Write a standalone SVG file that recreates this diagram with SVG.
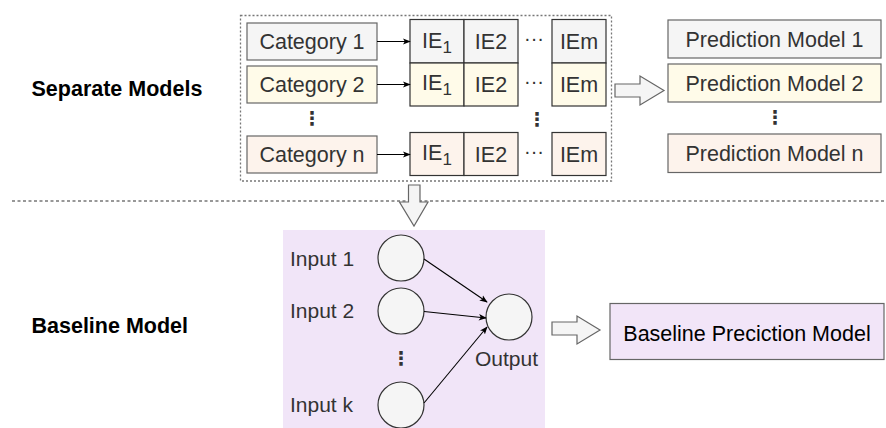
<svg xmlns="http://www.w3.org/2000/svg" width="886" height="428" viewBox="0 0 886 428">
  <style>
    text { font-family: "Liberation Sans", Arial, sans-serif; fill: #333333; }
    .lbl { font-size: 21.5px; text-anchor: middle; }
    .in { font-size: 21px; }
    .head { font-size: 21.5px; font-weight: bold; fill: #000000; }
    .vd { font-family: "DejaVu Sans", sans-serif; font-size: 19px; font-weight: bold; text-anchor: middle; fill: #333333; }
    .hd { font-size: 20px; text-anchor: middle; }
    .box { stroke: #666666; stroke-width: 1.2; }
    .cell { stroke: #333333; stroke-width: 1.2; }
    .g1 { fill: #f5f5f5; }
    .g2 { fill: #fffbe9; }
    .g3 { fill: #fdf3ec; }
    .circ { fill: #f5f5f5; stroke: #333333; stroke-width: 1.2; }
    .conn { stroke: #000000; stroke-width: 1.1; fill: none; marker-end: url(#tri); }
    .block { fill: #f5f5f5; stroke: #666666; stroke-width: 1.2; }
  </style>
  <defs>
    <marker id="tri" viewBox="0 0 10 10" refX="9" refY="5" markerWidth="8" markerHeight="8" markerUnits="userSpaceOnUse" orient="auto">
      <path d="M0,1 L10,5 L0,9 L2.5,5 Z" fill="#000000"/>
    </marker>
  </defs>

  <rect width="886" height="428" fill="#ffffff"/>

  <!-- section titles -->
  <text class="head" x="31.5" y="96">Separate Models</text>
  <text class="head" x="31.5" y="333">Baseline Model</text>

  <!-- divider between the two sections -->
  <line x1="12" y1="201" x2="885" y2="201" stroke="#777777" stroke-width="1.5" stroke-dasharray="3,2.5"/>

  <!-- grouping frame around the category table -->
  <rect id="category-frame" x="240.5" y="15.5" width="371" height="165.5" fill="none" stroke="#777777" stroke-width="1.3" stroke-dasharray="2,2"/>

  <!-- category boxes -->
  <g id="category-1">
    <rect class="box g1" x="247" y="23" width="130" height="37"/>
    <text class="lbl" x="312" y="49">Category 1</text>
  </g>
  <g id="category-2">
    <rect class="box g2" x="247" y="66" width="130" height="37"/>
    <text class="lbl" x="312" y="92">Category 2</text>
  </g>
  <text class="vd" x="312" y="125">⋮</text>
  <g id="category-n">
    <rect class="box g3" x="247" y="136" width="130" height="37"/>
    <text class="lbl" x="312" y="162">Category n</text>
  </g>

  <!-- IE tables -->
  <g id="ie-row-1">
    <rect class="cell g1" x="410" y="19.5" width="54" height="43.5"/>
    <rect class="cell g1" x="464" y="19.5" width="54" height="43.5"/>
    <rect class="cell g1" x="552" y="19.5" width="54" height="43.5"/>
    <text class="lbl" x="437" y="48">IE<tspan font-size="17" dy="5">1</tspan></text>
    <text class="lbl" x="491" y="49">IE2</text>
    <text class="hd" x="534" y="45">···</text>
    <text class="lbl" x="579" y="49">IEm</text>
  </g>
  <g id="ie-row-2">
    <rect class="cell g2" x="410" y="63" width="54" height="43"/>
    <rect class="cell g2" x="464" y="63" width="54" height="43"/>
    <rect class="cell g2" x="552" y="63" width="54" height="43"/>
    <text class="lbl" x="437" y="90">IE<tspan font-size="17" dy="5">1</tspan></text>
    <text class="lbl" x="491" y="92">IE2</text>
    <text class="hd" x="534" y="88">···</text>
    <text class="lbl" x="579" y="92">IEm</text>
  </g>
  <text class="vd" x="537" y="126">⋮</text>
  <g id="ie-row-n">
    <rect class="cell g3" x="410" y="132.5" width="54" height="43"/>
    <rect class="cell g3" x="464" y="132.5" width="54" height="43"/>
    <rect class="cell g3" x="552" y="132.5" width="54" height="43"/>
    <text class="lbl" x="437" y="160">IE<tspan font-size="17" dy="5">1</tspan></text>
    <text class="lbl" x="491" y="162">IE2</text>
    <text class="hd" x="534" y="158">···</text>
    <text class="lbl" x="579" y="162">IEm</text>
  </g>

  <!-- prediction models -->
  <g id="prediction-1">
    <rect class="box g1" x="668" y="20" width="213" height="38"/>
    <text class="lbl" x="774.5" y="46.5">Prediction Model 1</text>
  </g>
  <g id="prediction-2">
    <rect class="box g2" x="668" y="64" width="213" height="38"/>
    <text class="lbl" x="774.5" y="90.5">Prediction Model 2</text>
  </g>
  <text class="vd" x="775" y="124">⋮</text>
  <g id="prediction-n">
    <rect class="box g3" x="668" y="134" width="213" height="38.5"/>
    <text class="lbl" x="774.5" y="161">Prediction Model n</text>
  </g>

  <!-- baseline network panel -->
  <g id="network">
    <rect x="283" y="230" width="262" height="198" fill="#f1e5f8"/>
    <text class="in" x="290" y="266">Input 1</text>
    <text class="in" x="290" y="318">Input 2</text>
    <text class="vd" x="401" y="365">⋮</text>
    <text class="in" x="290" y="412">Input k</text>
    <text class="in" x="475" y="366">Output</text>
  </g>
  <g id="input-1"><circle class="circ" cx="401" cy="258" r="23"/></g>
  <g id="input-2"><circle class="circ" cx="401" cy="311" r="23"/></g>
  <g id="input-k"><circle class="circ" cx="401" cy="405" r="23"/></g>
  <g id="output"><circle class="circ" cx="509" cy="317" r="23"/></g>

  <g id="baseline-model">
    <rect x="610" y="303.5" width="274" height="56" fill="#f2e5f8" stroke="#666666" stroke-width="1.2"/>
    <text class="lbl" x="747" y="341" style="fill:#000000">Baseline Preciction Model</text>
  </g>

  <!-- connectors -->
  <g id="connectors">
    <line class="conn" x1="377" y1="41.5" x2="410" y2="41.5"/>
    <line class="conn" x1="377" y1="84.5" x2="410" y2="84.5"/>
    <line class="conn" x1="377" y1="154.5" x2="410" y2="154.5"/>

    <line class="conn" x1="424" y1="259" x2="487" y2="302"/>
    <line class="conn" x1="424" y1="311.5" x2="486" y2="318"/>
    <line class="conn" x1="424" y1="403" x2="487" y2="327"/>

    <!-- block arrows -->
    <path class="block" d="M615,84 H640 V76 L664,90.5 L640,105 V97 H615 Z"/>
    <path class="block" d="M408.5,185 H420 V202 H428 L414,226 L399.5,202 H408.5 Z"/>
    <path class="block" d="M552,322 H577 V316 L600,330 L577,344 V335 H552 Z"/>
  </g>
</svg>
